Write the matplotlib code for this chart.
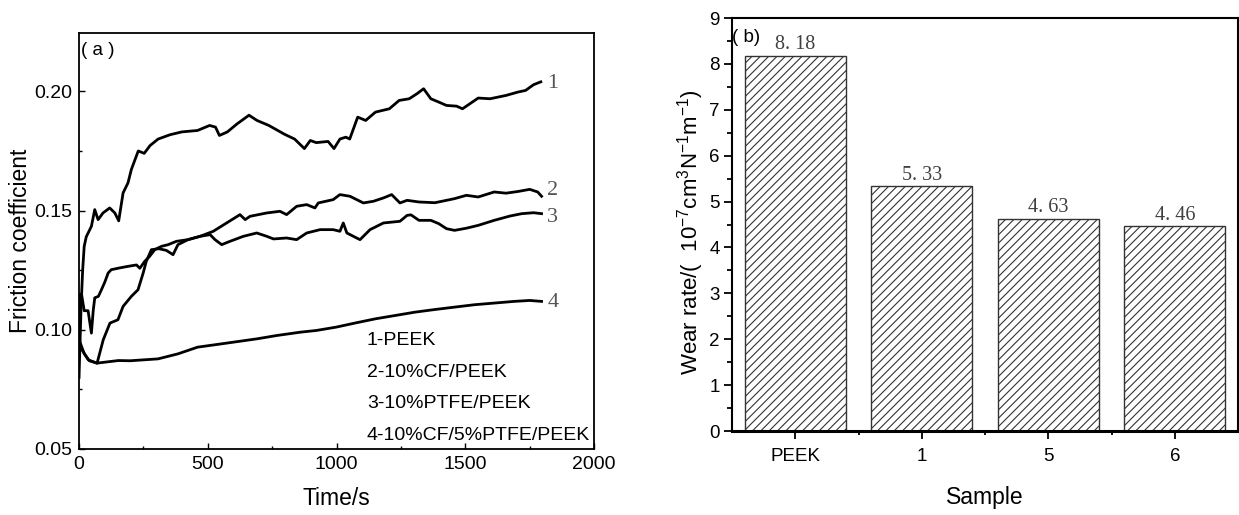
import matplotlib
matplotlib.use("Agg")
import matplotlib.pyplot as plt
from matplotlib.ticker import MultipleLocator, AutoMinorLocator

plt.rcParams['font.family'] = ['Liberation Sans', 'DejaVu Sans']
plt.rcParams['mathtext.fontset'] = 'custom'
plt.rcParams['mathtext.rm'] = 'Liberation Sans'
plt.rcParams['mathtext.it'] = 'Liberation Sans:italic'
plt.rcParams['hatch.linewidth'] = 0.8

# (a) friction coefficient vs time
t1 = [0, 3, 8, 14, 20, 28, 48, 61, 74, 93, 119, 139, 154, 171, 190, 203, 223, 230, 253,
      276, 307, 353, 399, 460, 507, 530, 545, 576, 614, 660, 691, 737, 798, 837, 875, 898,
      921, 967, 990, 1013, 1036, 1051, 1082, 1113, 1151, 1205, 1243, 1282, 1312, 1338,
      1366, 1397, 1427, 1466, 1489, 1550, 1596, 1658, 1704, 1734, 1765, 1793]
mu1 = [0.080, 0.092, 0.110, 0.125, 0.135, 0.139, 0.1434, 0.1504, 0.1462, 0.149, 0.1511,
       0.149, 0.1457, 0.1574, 0.1616, 0.1672, 0.173, 0.175, 0.174, 0.1773, 0.180, 0.1818,
       0.183, 0.1836, 0.1857, 0.185, 0.1815, 0.183, 0.1864, 0.190, 0.1878, 0.1857, 0.182,
       0.180, 0.176, 0.1794, 0.1785, 0.179, 0.176, 0.180, 0.1808, 0.180, 0.1892, 0.1878,
       0.1913, 0.1927, 0.1962, 0.1969, 0.199, 0.2011, 0.1969, 0.1955, 0.1941, 0.1938,
       0.1927, 0.1972, 0.1969, 0.1983, 0.1997, 0.2004, 0.2028, 0.204]

t2 = [0, 3, 10, 20, 35, 48, 55, 61, 75, 87, 100, 113, 125, 160, 190, 223, 236, 255, 274,
      294, 320, 346, 378, 423, 470, 521, 573, 625, 645, 664, 729, 780, 806, 845, 884, 916,
      929, 987, 1013, 1052, 1104, 1143, 1182, 1214, 1246, 1274, 1320, 1382, 1427, 1458,
      1504, 1550, 1612, 1658, 1704, 1750, 1781, 1796]
mu2 = [0.100, 0.115, 0.1147, 0.108, 0.108, 0.0986, 0.108, 0.1134, 0.114, 0.1168, 0.120,
       0.1238, 0.1252, 0.126, 0.1266, 0.1272, 0.1258, 0.1287, 0.1308, 0.1336, 0.135,
       0.1357, 0.1371, 0.1378, 0.1392, 0.1413, 0.1448, 0.1483, 0.1462, 0.1476, 0.149,
       0.1497, 0.1483, 0.1518, 0.1525, 0.1511, 0.1532, 0.1546, 0.1567, 0.156, 0.1532,
       0.1539, 0.1553, 0.1567, 0.1532, 0.1543, 0.1536, 0.1533, 0.1543, 0.155, 0.1564,
       0.1557, 0.1578, 0.1573, 0.158, 0.1589, 0.1578, 0.156]

t3 = [0, 3, 20, 40, 70, 94, 120, 151, 171, 203, 229, 249, 261, 281, 310, 339, 365, 384,
      423, 470, 509, 528, 554, 586, 638, 690, 729, 755, 806, 845, 884, 936, 987, 1013,
      1026, 1040, 1078, 1091, 1130, 1182, 1246, 1274, 1289, 1320, 1366, 1397, 1427, 1458,
      1504, 1550, 1612, 1673, 1719, 1765, 1796]
mu3 = [0.100, 0.095, 0.090, 0.087, 0.086, 0.0958, 0.1028, 0.1042, 0.1098, 0.114, 0.1168,
       0.1238, 0.1287, 0.1336, 0.134, 0.1333, 0.1315, 0.1357, 0.1378, 0.1392, 0.1399,
       0.1378, 0.1357, 0.1371, 0.1392, 0.1406, 0.1392, 0.1381, 0.1385, 0.1378, 0.1406,
       0.142, 0.142, 0.1413, 0.1448, 0.1406, 0.1385, 0.1378, 0.142, 0.1448, 0.1455, 0.148,
       0.1482, 0.1459, 0.1459, 0.1445, 0.1424, 0.1417, 0.1426, 0.1438, 0.1459, 0.1477,
       0.1487, 0.1491, 0.1487]

t4 = [0, 3, 36, 69, 153, 198, 307, 384, 460, 553, 691, 768, 860, 921, 998, 1075, 1151,
      1228, 1305, 1382, 1458, 1535, 1612, 1689, 1750, 1796]
mu4 = [0.100, 0.093, 0.0874, 0.086, 0.0871, 0.087, 0.0878, 0.0899, 0.0927, 0.0941, 0.0962,
       0.0976, 0.099, 0.0997, 0.1011, 0.1029, 0.1046, 0.106, 0.1074, 0.1085, 0.1095,
       0.1105, 0.1112, 0.1119, 0.1123, 0.1119]

curve_tags = ['1', '2', '3', '4']
tag_y = [0.2032, 0.1585, 0.147, 0.1116]
legend_lines = ['1-PEEK', '2-10%CF/PEEK', '3-10%PTFE/PEEK', '4-10%CF/5%PTFE/PEEK']
legend_y = [0.0955, 0.0822, 0.069, 0.0557]

# (b) wear rate
samples = ['PEEK', '1', '5', '6']
wear = [8.18, 5.33, 4.63, 4.46]
wear_txt = ['8. 18', '5. 33', '4. 63', '4. 46']

fig = plt.figure(figsize=(12.39, 5.15), dpi=100)

# ---- panel (a)
ax1 = fig.add_axes([0.0638, 0.1282, 0.4157, 0.8078])
for t, mu in zip([t1, t2, t3, t4], [mu1, mu2, mu3, mu4]):
    ax1.plot(t, mu, color='black', lw=2.0)
ax1.set_xlim(0, 2000)
ax1.set_ylim(0.05, 0.2245)
ax1.xaxis.set_major_locator(MultipleLocator(500))
ax1.xaxis.set_minor_locator(AutoMinorLocator(2))
ax1.set_yticks([0.05, 0.10, 0.15, 0.20])
ax1.set_yticklabels(['0.05', '0.10', '0.15', '0.20'])
ax1.yaxis.set_minor_locator(AutoMinorLocator(2))
ax1.tick_params(which='both', direction='in', top=False, right=False, labelsize=14)
ax1.tick_params(which='major', length=4, width=1, pad=5)
ax1.tick_params(which='minor', length=2.5, width=1)
for s in ax1.spines.values():
    s.set_linewidth(1.3)
ax1.set_xlabel('Time/s', fontsize=16.5)
ax1.xaxis.set_label_coords(0.5, -0.12)
ax1.xaxis.label.set_va('center')
ax1.set_ylabel('Friction coefficient', fontsize=16.5)
ax1.yaxis.set_label_coords(-0.1146, 0.5)
ax1.yaxis.label.set_va('center')

for tag, y in zip(curve_tags, tag_y):
    ax1.text(1818, y, tag, fontsize=16, color='#555555', family='Liberation Serif',
             va='center', ha='left')
for line, y in zip(legend_lines, legend_y):
    ax1.text(1118, y, line, fontsize=14, va='center', ha='left')
ax1.text(0.003, 0.957, '( a )', transform=ax1.transAxes, fontsize=13.5, va='center', ha='left')

# ---- panel (b)
ax2 = fig.add_axes([0.5908, 0.1631, 0.4084, 0.8019])
x = range(len(samples))
bars = ax2.bar(x, wear, width=0.8, color='white', edgecolor='#333333', hatch='////',
               linewidth=1.0)
for b, txt in zip(bars, wear_txt):
    ax2.text(b.get_x() + b.get_width() / 2, b.get_height() + 0.03, txt, fontsize=14.5,
             family='Liberation Serif', color='#404040', ha='center', va='bottom')
ax2.set_xlim(-0.5, 3.5)
ax2.set_ylim(0, 9)
ax2.set_xticks(list(x))
ax2.set_xticklabels(samples)
ax2.set_xticks([0.5, 1.5, 2.5], minor=True)
ax2.yaxis.set_major_locator(MultipleLocator(1))
ax2.yaxis.set_minor_locator(AutoMinorLocator(2))
ax2.tick_params(which='both', direction='out', top=False, right=False, labelsize=13.5)
ax2.tick_params(axis='x', which='major', length=6, width=1.3, pad=6)
ax2.tick_params(axis='x', which='minor', length=3, width=1.3)
ax2.tick_params(axis='y', which='major', length=6, width=1.3, pad=3)
ax2.tick_params(axis='y', which='minor', length=3.5, width=1.3)
for s in ax2.spines.values():
    s.set_linewidth(1.5)
ax2.spines['bottom'].set_linewidth(2.2)
ax2.set_xlabel('Sample', fontsize=16.5)
ax2.xaxis.set_label_coords(0.5, -0.16)
ax2.xaxis.label.set_va('center')
ax2.set_ylabel('Wear rate/(  10$^{-7}$cm$^{3}$N$^{-1}$m$^{-1}$)', fontsize=16)
ax2.yaxis.set_label_coords(-0.082, 0.482)
ax2.yaxis.label.set_va('center')
ax2.text(0.0, 0.954, '( b)', transform=ax2.transAxes, fontsize=13.5, va='center', ha='left')

fig.savefig('out.png', dpi=100)
